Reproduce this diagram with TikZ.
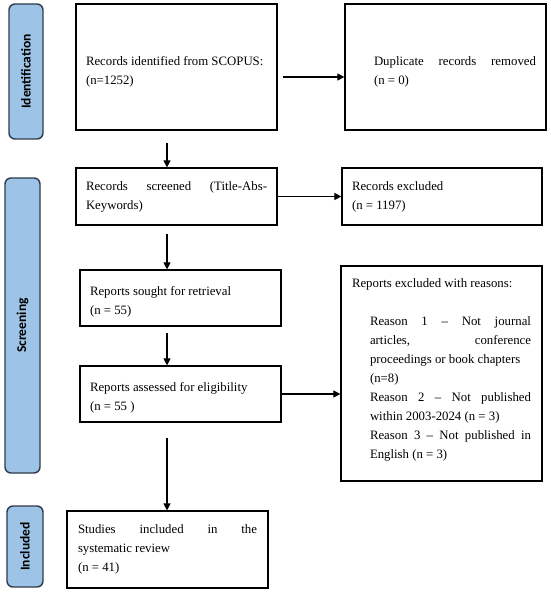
\documentclass[tikz,border=0pt]{standalone}
\usepackage{fontspec}
\setmainfont{Liberation Serif}
\newfontfamily\labfont{Carlito}
\usetikzlibrary{arrows.meta,calc}
\definecolor{labfill}{HTML}{9DC3E6}
\definecolor{labedge}{HTML}{2F3B4C}
\newcommand\boxtext[2]{\parbox{#1}{\tolerance=10000\hbadness=10000 #2}}
\begin{document}
\begin{tikzpicture}[x=1pt,y=-1pt,
  box/.style={draw=black, line width=1.2pt, inner sep=0pt, minimum width=201pt,
    font=\fontsize{12.8}{19}\selectfont},
  lab/.style={draw=labedge, fill=labfill, line width=1.4pt, rounded corners=6pt,
    inner sep=0pt, rotate=90, font=\labfont\bfseries\fontsize{13.5}{16}\selectfont},
  arr/.style={line width=1.1pt, -{Triangle[length=7pt,width=7pt]}}]
\useasboundingbox (0,0) rectangle (550,593);

% stage labels
\node[lab, minimum width=135pt, minimum height=34pt] (idlab) at (26,71.5) {Identification};
\node[lab, minimum width=295pt, minimum height=35pt] (scrlab) at (22.5,325.5) {Screening};
\node[lab, minimum width=81pt, minimum height=36pt] (inclab) at (25,546.5) {Included};

% boxes
\node[box, minimum height=126pt] (box1) at (176.5,67)
  {\boxtext{181pt}{\vspace*{10pt}Records identified from SCOPUS:\newline (n=1252)}};
\node[box, minimum height=126pt] (dup) at (445.5,67)
  {\boxtext{181pt}{\vspace*{10pt}\leftskip=19pt Duplicate records removed\linebreak (n = 0)}};
\node[box, minimum height=57pt] (scr) at (176.5,196.5)
  {\boxtext{181pt}{Records screened (Title-Abs-\linebreak Keywords)}};
\node[box, minimum width=200pt, minimum height=57pt] (excl) at (442,196.5)
  {\boxtext{180pt}{Records excluded\newline (n = 1197)}};
\node[box, minimum height=56pt] (sought) at (180.5,298)
  {\boxtext{181pt}{\vspace*{8pt}Reports sought for retrieval\newline (n = 55)}};
\node[box, minimum height=56pt] (assess) at (180.5,394)
  {\boxtext{181pt}{\vspace*{8pt}Reports assessed for eligibility\newline (n = 55 )}};
\node[box, minimum height=215pt] (reasons) at (441.5,373.5)
  {\boxtext{179pt}{Reports excluded with reasons:\par\vspace{19pt}
   \leftskip=18pt Reason 1 – Not journal\linebreak articles, conference\linebreak
   proceedings or book chapters\newline (n=8)\newline
   Reason 2 – Not published\linebreak within 2003-2024 (n = 3)\newline
   Reason 3 – Not published in\linebreak English (n = 3)\par\vspace{8pt}}};
\node[box, minimum height=77pt] (studies) at (167.5,549.5)
  {\boxtext{179pt}{Studies included in the\linebreak systematic review\newline (n = 41)}};

% connectors
\coordinate (vx) at (167,0);
\coordinate (hy) at (0,77);
\draw[arr] ([yshift=-12pt]box1.south -| vx) -- (scr.north -| vx);
\draw[arr] ([xshift=5pt]box1.east |- hy) -- (dup.west |- hy);
\draw[arr] (scr.east) -- (excl.west);
\draw[arr] ([yshift=-8pt]scr.south -| vx) -- (sought.north -| vx);
\draw[arr] ([yshift=-6pt]sought.south -| vx) -- (assess.north -| vx);
\draw[arr] (assess.east) -- (reasons.west |- assess.east);
\draw[arr] ([yshift=-15pt]assess.south -| vx) -- (studies.north -| vx);
\end{tikzpicture}
\end{document}
